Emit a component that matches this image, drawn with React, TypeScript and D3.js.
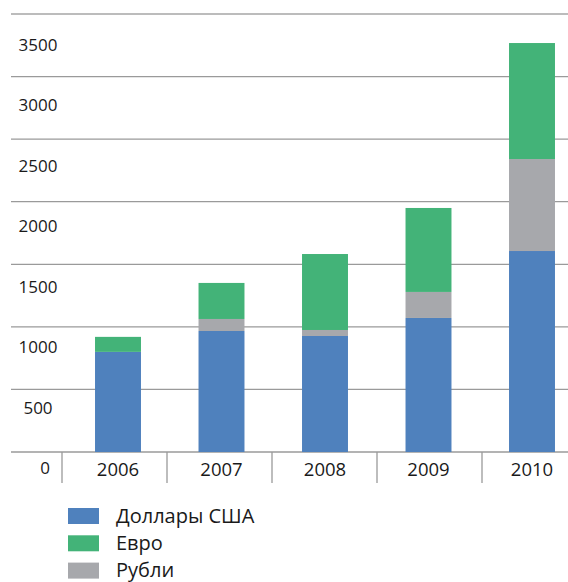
import * as React from "react";
import * as d3 from "d3";

const years = ["2006", "2007", "2008", "2009", "2010"];
const usd = [800, 967, 927, 1071, 1606];
const rub = [0, 96, 48, 208, 735];
const eur = [120, 288, 607, 671, 927];
const yTicks = [0, 500, 1000, 1500, 2000, 2500, 3000, 3500];

const seriesKeys = ["usd", "rub", "eur"];
const seriesColors: any = { usd: "#4f81bd", rub: "#a7a8ac", eur: "#43b378" };
// legend goes in a different order than the stack
const legendItems = [
    { key: "usd", label: "Доллары США" },
    { key: "eur", label: "Евро" },
    { key: "rub", label: "Рубли" },
];

const font = "'Open Sans', sans-serif";

export default function App() {
    const width = 568, height = 582;

    const rows = years.map((y, i) => ({ year: y, usd: usd[i], rub: rub[i], eur: eur[i] }));
    const stacked = d3.stack<any>().keys(seriesKeys)(rows);

    const y = d3.scaleLinear().domain([0, 3500]).range([452, 14]);
    // the labels in the source don't sit on the gridlines, they have their own spacing
    const yLabel = d3.scaleLinear().domain([0, 3500]).range([474, 51]);

    const xCell = d3.scaleBand().domain(years).range([62, 587]);
    const xBar = d3.scaleBand().domain(years).range([66.25, 583.75]).paddingInner(0.556).paddingOuter(0.278);

    return (
        <svg width={width} height={height} style={{ position: "absolute", left: 0, top: 0, background: "#fff" }}
            fontFamily={font}>
            {/* gridlines */}
            {yTicks.map(t => (
                <line key={t} x1={11} x2={width} y1={y(t)} y2={y(t)}
                    stroke={t === 3500 ? "#bcbcbc" : "#9a9a9a"} strokeWidth={t === 3500 ? 2 : 1.3} />
            ))}
            {/* category dividers */}
            {years.map(yr => (
                <line key={yr} x1={xCell(yr)} x2={xCell(yr)} y1={y(0)} y2={483} stroke="#9a9a9a" strokeWidth={1.3} />
            ))}
            {/* bars */}
            {stacked.map(s => (
                <g key={s.key} fill={seriesColors[s.key]}>
                    {s.map((d: any, i: number) => (
                        <rect key={i} x={xBar(d.data.year)} width={xBar.bandwidth()}
                            y={y(d[1])} height={Math.max(0, y(d[0]) - y(d[1]))} />
                    ))}
                </g>
            ))}
            {/* y labels */}
            {yTicks.map(t => (
                <text key={t} x={t === 0 ? 45 : 38} y={yLabel(t)} textAnchor="middle" fontSize={17} fill="#1a1a1a">{t}</text>
            ))}
            {/* x labels */}
            {years.map(yr => (
                <text key={yr} x={(xBar(yr) as number) + xBar.bandwidth() / 2} y={476} textAnchor="middle"
                    fontSize={18.5} fill="#1a1a1a">{yr}</text>
            ))}
            {/* legend */}
            {legendItems.map((it, i) => (
                <g key={it.key} transform={`translate(68,${508 + i * 27.3})`}>
                    <rect width={31} height={16} fill={seriesColors[it.key]} />
                    <text x={48} y={14.5} fontSize={20} fill="#1a1a1a">{it.label}</text>
                </g>
            ))}
        </svg>
    );
}
